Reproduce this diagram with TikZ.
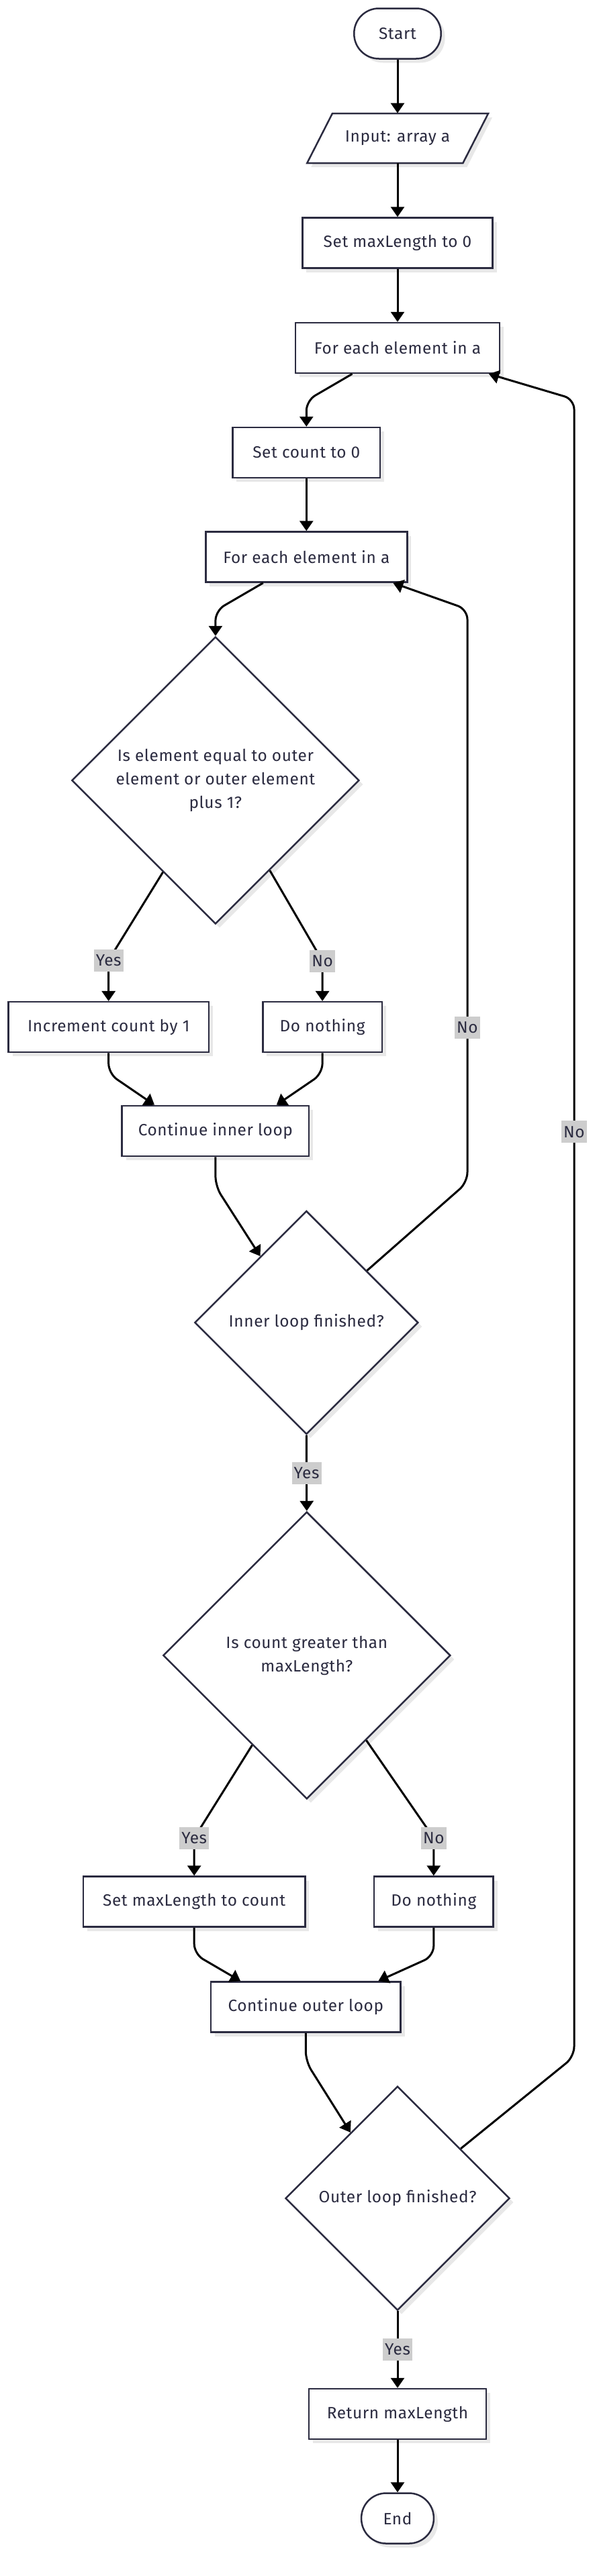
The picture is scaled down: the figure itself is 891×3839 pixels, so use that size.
\documentclass[tikz,border=0pt]{standalone}
\usepackage{fontspec}
\setmainfont[LetterSpace=2.5]{Fira Sans}
\usepackage{tikz}
\usetikzlibrary{shapes.geometric, arrows.meta, calc, shadows}
\definecolor{nodeline}{HTML}{2B2B40}
\definecolor{labelgray}{HTML}{CDCDCD}
\definecolor{shadowgray}{HTML}{E8E8E8}

\tikzset{
    every node/.style={font=\fontsize{12.2}{17.5}\selectfont, text=nodeline},
    box/.style={draw=nodeline, line width=1.25pt, fill=white, minimum height=37.5pt, inner sep=0pt,
        drop shadow={shadow xshift=3pt, shadow yshift=-3pt, fill=shadowgray, opacity=1}},
    term/.style={box, rounded corners=18.5pt},
    decision/.style={box, diamond, align=center},
    flow/.style={draw=black, line width=1.5pt, rounded corners=7.5pt, -{Triangle[length=7.5pt, width=10pt]}},
    lab/.style={sharp corners, fill=labelgray, inner xsep=1.5pt, inner ysep=0pt, minimum height=16.5pt}
}

\begin{document}
\begin{tikzpicture}[x=0.5pt, y=-0.5pt]
            \useasboundingbox (0,0) rectangle (891,3839);

            % main column
            \node[term, minimum width=64.7pt] (start) at (592,50) {Start};
            \draw[box] (457.3,243) -- (495,169) -- (727.1,169) -- (689.4,243) -- cycle;
            \node[minimum height=37pt] (input) at (592,206) {Input: array a};
            \node[box, minimum width=141.7pt] (setmax) at (592,362) {Set maxLength to 0};
            \node[box, minimum width=152.1pt] (outer) at (592,518.5) {For each element in a};
            \node[box, minimum width=109.9pt] (setcount) at (456.3,674.5) {Set count to 0};
            \node[box, minimum width=150pt] (inner) at (456.3,830) {For each element in a};

            % inner loop
            \node[decision, minimum width=214pt, minimum height=214pt] (equal) at (320.9,1163) {Is element equal to outer\\element or outer element\\plus 1?};
            \node[box, minimum width=149.1pt] (incr) at (161.7,1530.7) {Increment count by 1};
            \node[box, minimum width=88.8pt] (skipA) at (480.1,1530.7) {Do nothing};
            \node[box, minimum width=139.2pt] (contin) at (320.9,1685.5) {Continue inner loop};
            \node[decision, minimum width=166.5pt, minimum height=166.5pt] (innerdone) at (456.3,1971) {Inner loop finished?};

            % outer loop
            \node[decision, minimum width=214pt, minimum height=214pt] (greater) at (456.8,2467) {Is count greater than\\maxLength?};
            \node[box, minimum width=165.2pt] (setmaxc) at (289.2,2834) {Set maxLength to count};
            \node[box, minimum width=88.8pt] (skipB) at (645.8,2834) {Do nothing};
            \node[box, minimum width=141.4pt] (contout) at (455.3,2991) {Continue outer loop};
            \node[decision, minimum width=167pt, minimum height=167pt] (outerdone) at (592,3276) {Outer loop finished?};
            \node[box, minimum width=132.2pt] (ret) at (592,3597.5) {Return maxLength};
            \node[term, minimum width=53.9pt] (end) at (592,3753) {End};

            \draw[flow] (start) -- (input);
            \draw[flow] (input) -- (setmax);
            \draw[flow] (setmax) -- (outer);
            \draw[flow] ($(outer.south)+(-67.5,0)$) -- (456.3,597) -- (setcount.north);
            \draw[flow] (setcount) -- (inner);
            \draw[flow] ($(inner.south)+(-64.5,0)$) -- (320.9,910) -- (equal.north);

            \draw[flow] ($(equal.west)!0.636!(equal.south)$) -- (161.7,1431) node[lab] (yesA) {Yes} -- (incr.north);
            \draw[flow] ($(equal.south)!0.376!(equal.east)$) -- (480.1,1432) node[lab] (noA) {No} -- (skipA.north);
            \draw[flow] (incr.south) -- (161.7,1600) -- ($(contin.north)+(-90.8,0)$);
            \draw[flow] (skipA.south) -- (480.1,1600) -- ($(contin.north)+(90.8,0)$);
            \draw[flow] (contin.south) -- (320.9,1768) -- ($(innerdone.north)!0.41!(innerdone.west)$);
            \draw[flow] ($(innerdone.north)!0.538!(innerdone.east)$) -- (696,1762) -- node[lab, pos=0.27] (noB) {No} (696,908) -- ($(inner.south)+(129,0)$);
            \draw[flow] (innerdone.south) -- node[lab] (yesB) {Yes} (greater.north);

            \draw[flow] ($(greater.south)!0.378!(greater.west)$) -- (289.2,2739) node[lab] (yesC) {Yes} -- (setmaxc.north);
            \draw[flow] ($(greater.south)!0.412!(greater.east)$) -- (645.8,2739) node[lab] (noC) {No} -- (skipB.north);
            \draw[flow] (setmaxc.south) -- (289.2,2912) -- ($(contout.north)+(-97.2,0)$);
            \draw[flow] (skipB.south) -- (645.8,2915) -- ($(contout.north)+(108.1,0)$);
            \draw[flow] (contout.south) -- (455.3,3072) -- ($(outerdone.north)!0.417!(outerdone.west)$);
            \draw[flow] ($(outerdone.north)!0.56!(outerdone.east)$) -- (855,3065) -- node[lab, pos=0.558] (noD) {No} (855,595) -- ($(outer.south)+(136,0)$);
            \draw[flow] (outerdone.south) -- node[lab] (yesD) {Yes} (ret.north);
            \draw[flow] (ret) -- (end);

        \end{tikzpicture}
\end{document}
